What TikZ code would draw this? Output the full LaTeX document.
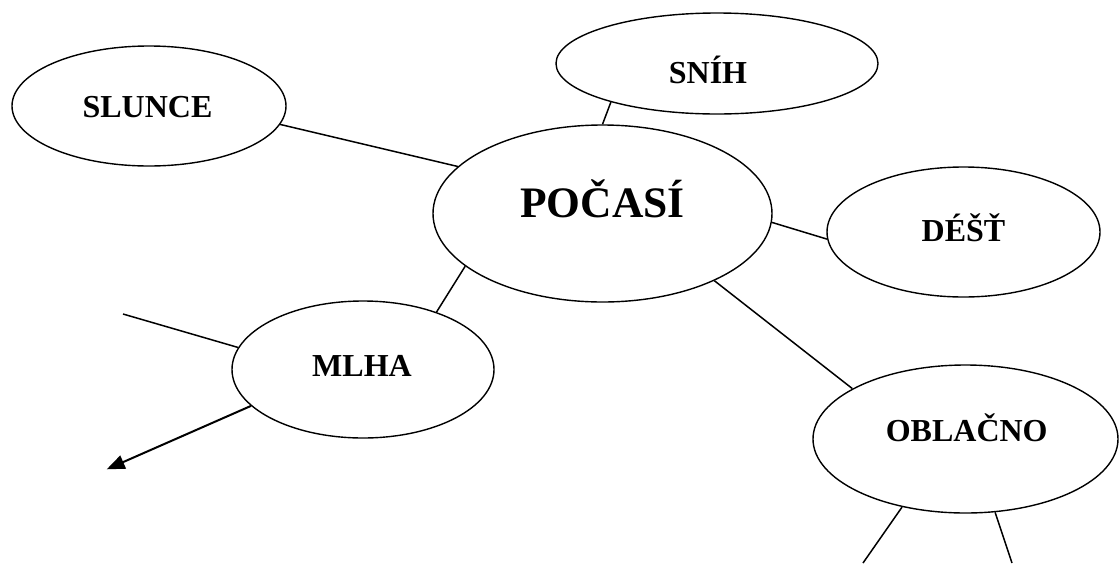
\documentclass[tikz,border=0pt]{standalone}
\usepackage{fontspec}
\setmainfont{Liberation Serif}
\usetikzlibrary{shapes.geometric,arrows.meta}
\tikzset{
  bub/.style={draw, ellipse, line width=1.4pt, inner sep=0pt},
  txt/.style={inner sep=0pt, anchor=center, text height=21pt, text depth=0pt,
    font=\bfseries\fontsize{32}{38}\selectfont},
  bigtxt/.style={inner sep=0pt, anchor=center, text height=28.5pt, text depth=0pt,
    font=\bfseries\fontsize{43.5}{50}\selectfont},
  conn/.style={line width=1.5pt},
  arr/.style={line width=2pt, -{Triangle[length=18pt,width=14pt]}}
}
\begin{document}
\begin{tikzpicture}[x=1pt,y=-1pt]
\useasboundingbox (0,0) rectangle (1119,563);
% ellipses
\node[bub, minimum width=274pt, minimum height=120pt] (slunce) at (149,106) {};
\node[bub, minimum width=322pt, minimum height=101pt] (snih) at (717,63.5) {};
\node[bub, minimum width=339pt, minimum height=177pt] (pocasi) at (602.5,213.5) {};
\node[bub, minimum width=273pt, minimum height=130pt] (dest) at (963.5,232) {};
\node[bub, minimum width=262pt, minimum height=137pt] (mlha) at (363,369.5) {};
\node[bub, minimum width=305pt, minimum height=148pt] (oblacno) at (965.5,439) {};
% texts
\node[txt] (tslunce) at (147.5,107) {SLUNCE};
\node[txt] (tsnih) at (708,72.5) {SNÍH};
\node[bigtxt] (tpocasi) at (602.5,202.8) {POČASÍ};
\node[txt] (tdest) at (963.5,231.3) {DÉŠŤ};
\node[txt] (tmlha) at (362,365.5) {MLHA};
\node[txt] (toblacno) at (966.7,430.8) {OBLAČNO};
% free ends
\coordinate (mlhaleft) at (123,314);
\coordinate (arrtip) at (106.7,469.3);
\coordinate (obl1) at (863,563);
\coordinate (obl2) at (1012,563);
% connectors
\draw[conn] (slunce.-8.7) -- (pocasi.162.5);
\draw[conn] (snih.200.8) -- (pocasi.90);
\draw[conn] (pocasi.-3.2) -- (dest.183.4);
\draw[conn] (pocasi.201.3) -- (mlha.38.7);
\draw[conn] (pocasi.-31.9) -- (oblacno.156);
\draw[conn] (mlhaleft) -- (mlha.170.8);
\draw[arr] (mlha.198.4) -- (arrtip);
\draw[conn] (oblacno.227.8) -- (obl1);
\draw[conn] (oblacno.292.4) -- (obl2);
\end{tikzpicture}
\end{document}
